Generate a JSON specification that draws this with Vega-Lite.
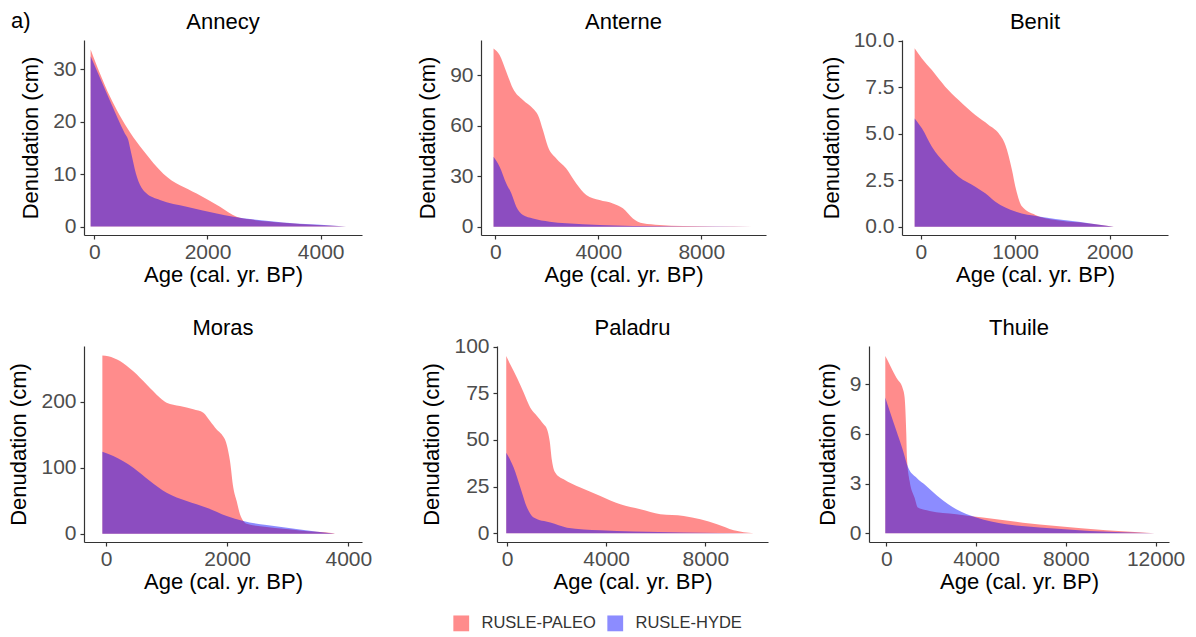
{
  "$schema": "https://vega.github.io/schema/vega-lite/v6.json",
  "padding": {"left": 7, "top": 9, "right": 5, "bottom": 5},
  "title": {"text": "a)", "anchor": "start", "frame": "bounds", "fontSize": 22, "fontWeight": "normal", "offset": -22, "dx": 3, "color": "#000000"},
  "datasets": {
    "d": [
      {"site":"Annecy","series":"RUSLE-PALEO","age":-65,"den":33.8},
      {"site":"Annecy","series":"RUSLE-PALEO","age":100,"den":29.2},
      {"site":"Annecy","series":"RUSLE-PALEO","age":277,"den":24.8},
      {"site":"Annecy","series":"RUSLE-PALEO","age":450,"den":21.2},
      {"site":"Annecy","series":"RUSLE-PALEO","age":630,"den":18.0},
      {"site":"Annecy","series":"RUSLE-PALEO","age":866,"den":14.5},
      {"site":"Annecy","series":"RUSLE-PALEO","age":1219,"den":10.1},
      {"site":"Annecy","series":"RUSLE-PALEO","age":1808,"den":6.3},
      {"site":"Annecy","series":"RUSLE-PALEO","age":2221,"den":3.8},
      {"site":"Annecy","series":"RUSLE-PALEO","age":2515,"den":1.9},
      {"site":"Annecy","series":"RUSLE-PALEO","age":2751,"den":1.4},
      {"site":"Annecy","series":"RUSLE-PALEO","age":3340,"den":0.76},
      {"site":"Annecy","series":"RUSLE-PALEO","age":3929,"den":0.3},
      {"site":"Annecy","series":"RUSLE-PALEO","age":4450,"den":0},
      {"site":"Annecy","series":"RUSLE-HYDE","age":-65,"den":32.5},
      {"site":"Annecy","series":"RUSLE-HYDE","age":100,"den":28.4},
      {"site":"Annecy","series":"RUSLE-HYDE","age":277,"den":24},
      {"site":"Annecy","series":"RUSLE-HYDE","age":542,"den":17.7},
      {"site":"Annecy","series":"RUSLE-HYDE","age":600,"den":16.5},
      {"site":"Annecy","series":"RUSLE-HYDE","age":642,"den":14.5},
      {"site":"Annecy","series":"RUSLE-HYDE","age":736,"den":10.1},
      {"site":"Annecy","series":"RUSLE-HYDE","age":925,"den":6.3},
      {"site":"Annecy","series":"RUSLE-HYDE","age":1160,"den":5.1},
      {"site":"Annecy","series":"RUSLE-HYDE","age":1632,"den":3.8},
      {"site":"Annecy","series":"RUSLE-HYDE","age":2162,"den":2.5},
      {"site":"Annecy","series":"RUSLE-HYDE","age":2456,"den":1.9},
      {"site":"Annecy","series":"RUSLE-HYDE","age":2751,"den":1.45},
      {"site":"Annecy","series":"RUSLE-HYDE","age":3340,"den":0.8},
      {"site":"Annecy","series":"RUSLE-HYDE","age":3929,"den":0.38},
      {"site":"Annecy","series":"RUSLE-HYDE","age":4450,"den":0},

      {"site":"Anterne","series":"RUSLE-PALEO","age":-68,"den":105.8},
      {"site":"Anterne","series":"RUSLE-PALEO","age":168,"den":101.9},
      {"site":"Anterne","series":"RUSLE-PALEO","age":427,"den":92},
      {"site":"Anterne","series":"RUSLE-PALEO","age":686,"den":82},
      {"site":"Anterne","series":"RUSLE-PALEO","age":1074,"den":75.2},
      {"site":"Anterne","series":"RUSLE-PALEO","age":1462,"den":70.2},
      {"site":"Anterne","series":"RUSLE-PALEO","age":1656,"den":66.3},
      {"site":"Anterne","series":"RUSLE-PALEO","age":1850,"den":57.4},
      {"site":"Anterne","series":"RUSLE-PALEO","age":2045,"den":47.5},
      {"site":"Anterne","series":"RUSLE-PALEO","age":2368,"den":40.5},
      {"site":"Anterne","series":"RUSLE-PALEO","age":2756,"den":34.6},
      {"site":"Anterne","series":"RUSLE-PALEO","age":3144,"den":25.7},
      {"site":"Anterne","series":"RUSLE-PALEO","age":3533,"den":18.8},
      {"site":"Anterne","series":"RUSLE-PALEO","age":4050,"den":15.8},
      {"site":"Anterne","series":"RUSLE-PALEO","age":4568,"den":13.8},
      {"site":"Anterne","series":"RUSLE-PALEO","age":4956,"den":10.9},
      {"site":"Anterne","series":"RUSLE-PALEO","age":5344,"den":4.9},
      {"site":"Anterne","series":"RUSLE-PALEO","age":5732,"den":2},
      {"site":"Anterne","series":"RUSLE-PALEO","age":6379,"den":1},
      {"site":"Anterne","series":"RUSLE-PALEO","age":7285,"den":0.4},
      {"site":"Anterne","series":"RUSLE-PALEO","age":8579,"den":0.1},
      {"site":"Anterne","series":"RUSLE-PALEO","age":9994,"den":0},
      {"site":"Anterne","series":"RUSLE-HYDE","age":-68,"den":41.5},
      {"site":"Anterne","series":"RUSLE-HYDE","age":168,"den":35.6},
      {"site":"Anterne","series":"RUSLE-HYDE","age":427,"den":25.7},
      {"site":"Anterne","series":"RUSLE-HYDE","age":621,"den":19.8},
      {"site":"Anterne","series":"RUSLE-HYDE","age":815,"den":11.9},
      {"site":"Anterne","series":"RUSLE-HYDE","age":1074,"den":6.9},
      {"site":"Anterne","series":"RUSLE-HYDE","age":1462,"den":4.9},
      {"site":"Anterne","series":"RUSLE-HYDE","age":2109,"den":3},
      {"site":"Anterne","series":"RUSLE-HYDE","age":2756,"den":2},
      {"site":"Anterne","series":"RUSLE-HYDE","age":4050,"den":1},
      {"site":"Anterne","series":"RUSLE-HYDE","age":5344,"den":0.4},
      {"site":"Anterne","series":"RUSLE-HYDE","age":7285,"den":0.1},
      {"site":"Anterne","series":"RUSLE-HYDE","age":9994,"den":0},

      {"site":"Benit","series":"RUSLE-PALEO","age":-66,"den":9.59},
      {"site":"Benit","series":"RUSLE-PALEO","age":11,"den":9.05},
      {"site":"Benit","series":"RUSLE-PALEO","age":117,"den":8.42},
      {"site":"Benit","series":"RUSLE-PALEO","age":258,"den":7.53},
      {"site":"Benit","series":"RUSLE-PALEO","age":400,"den":6.81},
      {"site":"Benit","series":"RUSLE-PALEO","age":577,"den":6.0},
      {"site":"Benit","series":"RUSLE-PALEO","age":719,"den":5.47},
      {"site":"Benit","series":"RUSLE-PALEO","age":825,"den":5.02},
      {"site":"Benit","series":"RUSLE-PALEO","age":896,"den":4.39},
      {"site":"Benit","series":"RUSLE-PALEO","age":966,"den":3.05},
      {"site":"Benit","series":"RUSLE-PALEO","age":1002,"den":2.15},
      {"site":"Benit","series":"RUSLE-PALEO","age":1073,"den":1.08},
      {"site":"Benit","series":"RUSLE-PALEO","age":1214,"den":0.63},
      {"site":"Benit","series":"RUSLE-PALEO","age":1427,"den":0.36},
      {"site":"Benit","series":"RUSLE-PALEO","age":1674,"den":0.23},
      {"site":"Benit","series":"RUSLE-PALEO","age":1851,"den":0.13},
      {"site":"Benit","series":"RUSLE-PALEO","age":2046,"den":0},
      {"site":"Benit","series":"RUSLE-HYDE","age":-66,"den":5.82},
      {"site":"Benit","series":"RUSLE-HYDE","age":11,"den":5.29},
      {"site":"Benit","series":"RUSLE-HYDE","age":117,"den":4.3},
      {"site":"Benit","series":"RUSLE-HYDE","age":258,"den":3.4},
      {"site":"Benit","series":"RUSLE-HYDE","age":400,"den":2.69},
      {"site":"Benit","series":"RUSLE-HYDE","age":577,"den":2.15},
      {"site":"Benit","series":"RUSLE-HYDE","age":683,"den":1.79},
      {"site":"Benit","series":"RUSLE-HYDE","age":790,"den":1.34},
      {"site":"Benit","series":"RUSLE-HYDE","age":1002,"den":0.81},
      {"site":"Benit","series":"RUSLE-HYDE","age":1250,"den":0.54},
      {"site":"Benit","series":"RUSLE-HYDE","age":1604,"den":0.3},
      {"site":"Benit","series":"RUSLE-HYDE","age":1781,"den":0.18},
      {"site":"Benit","series":"RUSLE-HYDE","age":2046,"den":0},

      {"site":"Moras","series":"RUSLE-PALEO","age":-60,"den":270},
      {"site":"Moras","series":"RUSLE-PALEO","age":38,"den":269},
      {"site":"Moras","series":"RUSLE-PALEO","age":231,"den":261.6},
      {"site":"Moras","series":"RUSLE-PALEO","age":451,"den":246},
      {"site":"Moras","series":"RUSLE-PALEO","age":671,"den":226},
      {"site":"Moras","series":"RUSLE-PALEO","age":891,"den":206},
      {"site":"Moras","series":"RUSLE-PALEO","age":1001,"den":198.5},
      {"site":"Moras","series":"RUSLE-PALEO","age":1221,"den":193.4},
      {"site":"Moras","series":"RUSLE-PALEO","age":1442,"den":188.4},
      {"site":"Moras","series":"RUSLE-PALEO","age":1607,"den":183.3},
      {"site":"Moras","series":"RUSLE-PALEO","age":1717,"den":170.7},
      {"site":"Moras","series":"RUSLE-PALEO","age":1827,"den":158},
      {"site":"Moras","series":"RUSLE-PALEO","age":1909,"den":150.5},
      {"site":"Moras","series":"RUSLE-PALEO","age":1992,"den":135},
      {"site":"Moras","series":"RUSLE-PALEO","age":2047,"den":110},
      {"site":"Moras","series":"RUSLE-PALEO","age":2102,"den":69.7},
      {"site":"Moras","series":"RUSLE-PALEO","age":2157,"den":49.5},
      {"site":"Moras","series":"RUSLE-PALEO","age":2212,"den":29.3},
      {"site":"Moras","series":"RUSLE-PALEO","age":2267,"den":19.2},
      {"site":"Moras","series":"RUSLE-PALEO","age":2322,"den":15},
      {"site":"Moras","series":"RUSLE-PALEO","age":2652,"den":10},
      {"site":"Moras","series":"RUSLE-PALEO","age":3202,"den":5},
      {"site":"Moras","series":"RUSLE-PALEO","age":3752,"den":0.5},
      {"site":"Moras","series":"RUSLE-PALEO","age":3780,"den":0},
      {"site":"Moras","series":"RUSLE-HYDE","age":-60,"den":124},
      {"site":"Moras","series":"RUSLE-HYDE","age":121,"den":117.7},
      {"site":"Moras","series":"RUSLE-HYDE","age":451,"den":100},
      {"site":"Moras","series":"RUSLE-HYDE","age":726,"den":79.8},
      {"site":"Moras","series":"RUSLE-HYDE","age":1001,"den":62},
      {"site":"Moras","series":"RUSLE-HYDE","age":1332,"den":49.5},
      {"site":"Moras","series":"RUSLE-HYDE","age":1662,"den":39.4},
      {"site":"Moras","series":"RUSLE-HYDE","age":1992,"den":26.8},
      {"site":"Moras","series":"RUSLE-HYDE","age":2267,"den":19.2},
      {"site":"Moras","series":"RUSLE-HYDE","age":2652,"den":13},
      {"site":"Moras","series":"RUSLE-HYDE","age":3202,"den":6.5},
      {"site":"Moras","series":"RUSLE-HYDE","age":3780,"den":0},

      {"site":"Paladru","series":"RUSLE-PALEO","age":-30,"den":95},
      {"site":"Paladru","series":"RUSLE-PALEO","age":134,"den":90.5},
      {"site":"Paladru","series":"RUSLE-PALEO","age":403,"den":83.4},
      {"site":"Paladru","series":"RUSLE-PALEO","age":672,"den":75.4},
      {"site":"Paladru","series":"RUSLE-PALEO","age":941,"den":67.3},
      {"site":"Paladru","series":"RUSLE-PALEO","age":1210,"den":62.9},
      {"site":"Paladru","series":"RUSLE-PALEO","age":1479,"den":58.4},
      {"site":"Paladru","series":"RUSLE-PALEO","age":1614,"den":55.7},
      {"site":"Paladru","series":"RUSLE-PALEO","age":1722,"den":49.5},
      {"site":"Paladru","series":"RUSLE-PALEO","age":1816,"den":38.8},
      {"site":"Paladru","series":"RUSLE-PALEO","age":1950,"den":32.5},
      {"site":"Paladru","series":"RUSLE-PALEO","age":2286,"den":28.9},
      {"site":"Paladru","series":"RUSLE-PALEO","age":2959,"den":24.5},
      {"site":"Paladru","series":"RUSLE-PALEO","age":3766,"den":20},
      {"site":"Paladru","series":"RUSLE-PALEO","age":4573,"den":15.5},
      {"site":"Paladru","series":"RUSLE-PALEO","age":5380,"den":12.9},
      {"site":"Paladru","series":"RUSLE-PALEO","age":6187,"den":10.2},
      {"site":"Paladru","series":"RUSLE-PALEO","age":7129,"den":9.3},
      {"site":"Paladru","series":"RUSLE-PALEO","age":7801,"den":7.5},
      {"site":"Paladru","series":"RUSLE-PALEO","age":8474,"den":4.8},
      {"site":"Paladru","series":"RUSLE-PALEO","age":9146,"den":1.6},
      {"site":"Paladru","series":"RUSLE-PALEO","age":9953,"den":0},
      {"site":"Paladru","series":"RUSLE-HYDE","age":-30,"den":43.2},
      {"site":"Paladru","series":"RUSLE-HYDE","age":269,"den":35.2},
      {"site":"Paladru","series":"RUSLE-HYDE","age":538,"den":24.5},
      {"site":"Paladru","series":"RUSLE-HYDE","age":807,"den":13.8},
      {"site":"Paladru","series":"RUSLE-HYDE","age":1076,"den":8.4},
      {"site":"Paladru","series":"RUSLE-HYDE","age":1749,"den":5.7},
      {"site":"Paladru","series":"RUSLE-HYDE","age":2421,"den":3},
      {"site":"Paladru","series":"RUSLE-HYDE","age":3766,"den":1.6},
      {"site":"Paladru","series":"RUSLE-HYDE","age":5111,"den":0.9},
      {"site":"Paladru","series":"RUSLE-HYDE","age":7129,"den":0.36},
      {"site":"Paladru","series":"RUSLE-HYDE","age":9953,"den":0},

      {"site":"Thuile","series":"RUSLE-PALEO","age":-45,"den":10.7},
      {"site":"Thuile","series":"RUSLE-PALEO","age":148,"den":10.2},
      {"site":"Thuile","series":"RUSLE-PALEO","age":445,"den":9.4},
      {"site":"Thuile","series":"RUSLE-PALEO","age":743,"den":8.7},
      {"site":"Thuile","series":"RUSLE-PALEO","age":817,"den":8.2},
      {"site":"Thuile","series":"RUSLE-PALEO","age":891,"den":6.0},
      {"site":"Thuile","series":"RUSLE-PALEO","age":920,"den":4.57},
      {"site":"Thuile","series":"RUSLE-PALEO","age":1040,"den":3.16},
      {"site":"Thuile","series":"RUSLE-PALEO","age":1262,"den":2.15},
      {"site":"Thuile","series":"RUSLE-PALEO","age":1411,"den":1.55},
      {"site":"Thuile","series":"RUSLE-PALEO","age":1931,"den":1.35},
      {"site":"Thuile","series":"RUSLE-PALEO","age":3119,"den":1.15},
      {"site":"Thuile","series":"RUSLE-PALEO","age":4307,"den":0.95},
      {"site":"Thuile","series":"RUSLE-PALEO","age":6089,"den":0.64},
      {"site":"Thuile","series":"RUSLE-PALEO","age":7574,"den":0.44},
      {"site":"Thuile","series":"RUSLE-PALEO","age":9801,"den":0.18},
      {"site":"Thuile","series":"RUSLE-PALEO","age":11954,"den":0},
      {"site":"Thuile","series":"RUSLE-HYDE","age":-45,"den":8.2},
      {"site":"Thuile","series":"RUSLE-HYDE","age":148,"den":7.4},
      {"site":"Thuile","series":"RUSLE-HYDE","age":445,"den":6.2},
      {"site":"Thuile","series":"RUSLE-HYDE","age":743,"den":5.0},
      {"site":"Thuile","series":"RUSLE-HYDE","age":965,"den":4.0},
      {"site":"Thuile","series":"RUSLE-HYDE","age":1337,"den":3.36},
      {"site":"Thuile","series":"RUSLE-HYDE","age":1782,"den":2.86},
      {"site":"Thuile","series":"RUSLE-HYDE","age":2376,"den":2.15},
      {"site":"Thuile","series":"RUSLE-HYDE","age":3119,"den":1.45},
      {"site":"Thuile","series":"RUSLE-HYDE","age":4010,"den":0.95},
      {"site":"Thuile","series":"RUSLE-HYDE","age":5346,"den":0.54},
      {"site":"Thuile","series":"RUSLE-HYDE","age":6831,"den":0.34},
      {"site":"Thuile","series":"RUSLE-HYDE","age":9059,"den":0.14},
      {"site":"Thuile","series":"RUSLE-HYDE","age":11954,"den":0}
    ]
  },
  "vconcat": [
    {
      "hconcat": [
        {
          "title": "Annecy", "width": 278, "height": 195,
          "data": {"name": "d"},
          "transform": [{"filter": "datum.site === 'Annecy'"}],
          "encoding": {
            "x": {"field": "age", "type": "quantitative", "title": "Age (cal. yr. BP)", "scale": {"domain": [-182, 4730], "nice": false, "zero": false}, "axis": {"values": [0, 2000, 4000], "format": "d"}},
            "y": {"field": "den", "type": "quantitative", "title": "Denudation (cm)", "scale": {"domain": [-1.6, 35.6], "nice": false, "zero": false}, "axis": {"values": [0, 10, 20, 30], "format": "d"}},
            "y2": {"datum": 0},
            "color": {"field": "series", "type": "nominal", "scale": {"domain": ["RUSLE-PALEO", "RUSLE-HYDE"], "range": ["#ff0000", "#0000ff"]}, "legend": {"orient": "none", "legendX": 369, "legendY": 575, "direction": "horizontal", "title": null}}
          },
          "layer": [
            {"transform": [{"filter": "datum.series === 'RUSLE-PALEO'"}], "mark": {"type": "area", "interpolate": "monotone", "opacity": 0.45}},
            {"transform": [{"filter": "datum.series === 'RUSLE-HYDE'"}], "mark": {"type": "area", "interpolate": "monotone", "opacity": 0.45}}
          ]
        },
        {
          "title": "Anterne", "width": 285, "height": 195,
          "data": {"name": "d"},
          "transform": [{"filter": "datum.site === 'Anterne'"}],
          "encoding": {
            "x": {"field": "age", "type": "quantitative", "title": "Age (cal. yr. BP)", "scale": {"domain": [-555, 10513], "nice": false, "zero": false}, "axis": {"values": [0, 4000, 8000], "format": "d"}},
            "y": {"field": "den", "type": "quantitative", "title": "Denudation (cm)", "scale": {"domain": [-4.9, 110.8], "nice": false, "zero": false}, "axis": {"values": [0, 30, 60, 90], "format": "d"}},
            "y2": {"datum": 0},
            "color": {"field": "series", "type": "nominal", "scale": {"domain": ["RUSLE-PALEO", "RUSLE-HYDE"], "range": ["#ff0000", "#0000ff"]}, "legend": {"orient": "none", "legendX": 369, "legendY": 575, "direction": "horizontal", "title": null}}
          },
          "layer": [
            {"transform": [{"filter": "datum.series === 'RUSLE-PALEO'"}], "mark": {"type": "area", "interpolate": "monotone", "opacity": 0.45}},
            {"transform": [{"filter": "datum.series === 'RUSLE-HYDE'"}], "mark": {"type": "area", "interpolate": "monotone", "opacity": 0.45}}
          ]
        },
        {
          "title": {"text": "Benit", "offset": -4}, "width": 266, "height": 195,
          "data": {"name": "d"},
          "transform": [{"filter": "datum.site === 'Benit'"}],
          "encoding": {
            "x": {"field": "age", "type": "quantitative", "title": "Age (cal. yr. BP)", "scale": {"domain": [-200, 2620], "nice": false, "zero": false}, "axis": {"values": [0, 1000, 2000], "format": "d"}},
            "y": {"field": "den", "type": "quantitative", "title": "Denudation (cm)", "scale": {"domain": [-0.45, 10.04], "nice": false, "zero": false}, "axis": {"values": [0, 2.5, 5, 7.5, 10], "format": ".1f"}},
            "y2": {"datum": 0},
            "color": {"field": "series", "type": "nominal", "scale": {"domain": ["RUSLE-PALEO", "RUSLE-HYDE"], "range": ["#ff0000", "#0000ff"]}, "legend": {"orient": "none", "legendX": 369, "legendY": 575, "direction": "horizontal", "title": null}}
          },
          "layer": [
            {"transform": [{"filter": "datum.series === 'RUSLE-PALEO'"}], "mark": {"type": "area", "interpolate": "monotone", "opacity": 0.45}},
            {"transform": [{"filter": "datum.series === 'RUSLE-HYDE'"}], "mark": {"type": "area", "interpolate": "monotone", "opacity": 0.45}}
          ]
        }
      ],
      "spacing": 54,
      "resolve": {"scale": {"x": "independent", "y": "independent", "color": "shared"}}
    },
    {
      "hconcat": [
        {
          "title": "Moras", "width": 278, "height": 196,
          "data": {"name": "d"},
          "transform": [{"filter": "datum.site === 'Moras'"}],
          "encoding": {
            "x": {"field": "age", "type": "quantitative", "title": "Age (cal. yr. BP)", "scale": {"domain": [-363, 4226], "nice": false, "zero": false}, "axis": {"values": [0, 2000, 4000], "format": "d"}},
            "y": {"field": "den", "type": "quantitative", "title": "Denudation (cm)", "scale": {"domain": [-12.6, 284.4], "nice": false, "zero": false}, "axis": {"values": [0, 100, 200], "format": "d"}},
            "y2": {"datum": 0},
            "color": {"field": "series", "type": "nominal", "scale": {"domain": ["RUSLE-PALEO", "RUSLE-HYDE"], "range": ["#ff0000", "#0000ff"]}, "legend": {"orient": "none", "legendX": 369, "legendY": 575, "direction": "horizontal", "title": null}}
          },
          "layer": [
            {"transform": [{"filter": "datum.series === 'RUSLE-PALEO'"}], "mark": {"type": "area", "interpolate": "monotone", "opacity": 0.45}},
            {"transform": [{"filter": "datum.series === 'RUSLE-HYDE'"}], "mark": {"type": "area", "interpolate": "monotone", "opacity": 0.45}}
          ]
        },
        {
          "title": {"text": "Paladru", "offset": -4}, "width": 271, "height": 196,
          "data": {"name": "d"},
          "transform": [{"filter": "datum.site === 'Paladru'"}],
          "encoding": {
            "x": {"field": "age", "type": "quantitative", "title": "Age (cal. yr. BP)", "scale": {"domain": [-403, 10528], "nice": false, "zero": false}, "axis": {"values": [0, 4000, 8000], "format": "d"}},
            "y": {"field": "den", "type": "quantitative", "title": "Denudation (cm)", "scale": {"domain": [-4.7, 100.4], "nice": false, "zero": false}, "axis": {"values": [0, 25, 50, 75, 100], "format": "d"}},
            "y2": {"datum": 0},
            "color": {"field": "series", "type": "nominal", "scale": {"domain": ["RUSLE-PALEO", "RUSLE-HYDE"], "range": ["#ff0000", "#0000ff"]}, "legend": {"orient": "none", "legendX": 369, "legendY": 575, "direction": "horizontal", "title": null}}
          },
          "layer": [
            {"transform": [{"filter": "datum.series === 'RUSLE-PALEO'"}], "mark": {"type": "area", "interpolate": "monotone", "opacity": 0.45}},
            {"transform": [{"filter": "datum.series === 'RUSLE-HYDE'"}], "mark": {"type": "area", "interpolate": "monotone", "opacity": 0.45}}
          ]
        },
        {
          "title": "Thuile", "width": 300, "height": 196,
          "data": {"name": "d"},
          "transform": [{"filter": "datum.site === 'Thuile'"}],
          "encoding": {
            "x": {"field": "age", "type": "quantitative", "title": "Age (cal. yr. BP)", "scale": {"domain": [-771, 12598], "nice": false, "zero": false}, "axis": {"values": [0, 4000, 8000, 12000], "format": "d"}},
            "y": {"field": "den", "type": "quantitative", "title": "Denudation (cm)", "scale": {"domain": [-0.53, 11.31], "nice": false, "zero": false}, "axis": {"values": [0, 3, 6, 9], "format": "d"}},
            "y2": {"datum": 0},
            "color": {"field": "series", "type": "nominal", "scale": {"domain": ["RUSLE-PALEO", "RUSLE-HYDE"], "range": ["#ff0000", "#0000ff"]}, "legend": {"orient": "none", "legendX": 369, "legendY": 575, "direction": "horizontal", "title": null}}
          },
          "layer": [
            {"transform": [{"filter": "datum.series === 'RUSLE-PALEO'"}], "mark": {"type": "area", "interpolate": "monotone", "opacity": 0.45}},
            {"transform": [{"filter": "datum.series === 'RUSLE-HYDE'"}], "mark": {"type": "area", "interpolate": "monotone", "opacity": 0.45}}
          ]
        }
      ],
      "spacing": 48,
      "resolve": {"scale": {"x": "independent", "y": "independent", "color": "shared"}}
    }
  ],
  "spacing": 31,
  "resolve": {"scale": {"color": "shared"}, "legend": {"color": "shared"}},
  "config": {
    "font": "Liberation Sans",
    "background": "#ffffff",
    "view": {"stroke": null},
    "axis": {"grid": false, "domainColor": "#333333", "tickColor": "#333333", "domainWidth": 1.2, "tickWidth": 1.2, "tickSize": 4, "labelColor": "#4d4d4d", "labelFontSize": 21, "titleFontSize": 22, "titleFontWeight": "normal", "titleColor": "#000000"},
    "axisX": {"labelPadding": 2, "titlePadding": 2},
    "axisY": {"labelPadding": 4, "titlePadding": 10},
    "title": {"fontSize": 22, "fontWeight": "normal", "color": "#000000", "offset": 6},
    "legend": {"symbolType": "square", "symbolSize": 250, "symbolOpacity": 0.45, "symbolStrokeWidth": 0, "labelFontSize": 16.5, "labelColor": "#333333", "labelOffset": 12, "columnPadding": 11}
  }
}
